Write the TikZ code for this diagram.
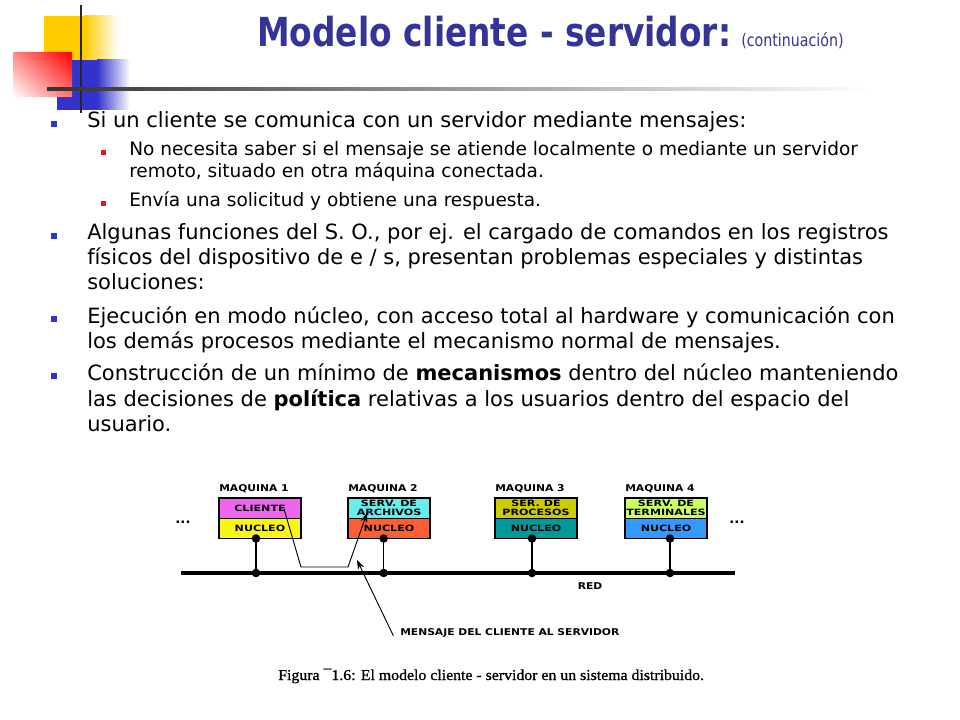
\documentclass[tikz,border=0pt]{standalone}
\usepackage{fontspec}
\setmainfont{DejaVu Sans}
\newfontfamily\titlefont[FakeStretch=0.82]{DejaVu Sans}
\newfontfamily\diagfont[FakeStretch=1.15]{DejaVu Sans}
\newfontfamily\cajafont[FakeStretch=1.28]{DejaVu Sans}
\newfontfamily\capfont[FakeStretch=1.05,FakeBold=1]{Liberation Serif}
\usetikzlibrary{positioning,arrows.meta,shadings}
\tikzset{>={Stealth[length=7pt,width=5pt]}}
\definecolor{titulo}{RGB}{51,51,153}
\definecolor{vazul}{RGB}{51,51,204}
\definecolor{vrojo}{RGB}{238,17,17}
\definecolor{lamarillo}{RGB}{255,204,0}
\definecolor{lazul}{RGB}{51,51,204}
\definecolor{cmagenta}{RGB}{238,102,238}
\definecolor{camarillo}{RGB}{250,245,20}
\definecolor{ccian}{RGB}{102,238,238}
\definecolor{cnaranja}{RGB}{250,96,50}
\definecolor{coliva}{RGB}{204,204,0}
\definecolor{cverdeazul}{RGB}{0,153,153}
\definecolor{cverde}{RGB}{204,255,102}
\definecolor{cceleste}{RGB}{51,153,255}
\newcommand*{\punto}[1]
  {\fill (#1) circle (3.2pt)}

\begin{document}
\begin{tikzpicture}[x=0.75pt,y=-0.75pt,
  cuerpo/.style={anchor=base west,inner sep=0pt,font=\fontsize{15.75}{18}\selectfont},
  sub/.style={anchor=base west,inner sep=0pt,font=\fontsize{13.9}{16}\selectfont},
  caja/.style={draw,line width=1pt,outer sep=0pt,inner sep=0pt,align=center,
    minimum width=61.5pt,minimum height=15.2pt,
    font=\cajafont\bfseries\fontsize{6.5}{6.8}\selectfont},
  maq/.style={inner sep=0pt,font=\diagfont\bfseries\fontsize{7}{8}\selectfont}]
\useasboundingbox (0,0) rectangle (960,720);
\fill[white] (0,0) rectangle (960,720);
% logo
\fill[lamarillo] (44,16) rectangle (84,60);
\shade[left color=lamarillo,right color=white] (84,16) rectangle (118,60);
\fill[lazul] (57,60) rectangle (97,110);
\shade[left color=lazul,right color=white] (97,60) rectangle (130,110);
\shade[upper right=red,lower left=white,upper left=red!45,lower right=red!55]
  (13,53) rectangle (72,97);
\draw[line width=2pt,black!85] (81,5) -- (81,113);
\shade[left color=black!80,right color=white] (47,87.5) rectangle (870,90.5);
% titulo
\node[anchor=base west,inner sep=0pt,text=titulo,
  font=\titlefont\bfseries\fontsize{30}{36}\selectfont] (tit) at (257,47)
  {Modelo cliente - servidor:};
\node[anchor=base west,inner sep=0pt,text=titulo,
  font=\titlefont\fontsize{13}{15}\selectfont] (cont) at (741,47) {(continuación)};
% texto
\node[cuerpo] (b1) at (87,128) {Si un cliente se comunica con un servidor mediante mensajes:};
\node[sub] (s1) at (129,156) {No necesita saber si el mensaje se atiende localmente o mediante un servidor};
\node[sub] (s1b) at (129,178) {remoto, situado en otra máquina conectada.};
\node[sub] (s2) at (129,207) {Envía una solicitud y obtiene una respuesta.};
\node[cuerpo] (b2) at (87,240) {Algunas funciones del S. O., por ej. el cargado de comandos en los registros};
\node[cuerpo] (b2b) at (87,265) {físicos del dispositivo de e / s, presentan problemas especiales y distintas};
\node[cuerpo] (b2c) at (87,290) {soluciones:};
\node[cuerpo] (b3) at (87,323) {Ejecución en modo núcleo, con acceso total al hardware y comunicación con};
\node[cuerpo] (b3b) at (87,348) {los demás procesos mediante el mecanismo normal de mensajes.};
\node[cuerpo] (b4) at (87,380) {Construcción de un mínimo de \textbf{mecanismos} dentro del núcleo manteniendo};
\node[cuerpo] (b4b) at (87,406) {las decisiones de \textbf{política} relativas a los usuarios dentro del espacio del};
\node[cuerpo] (b4c) at (87,431) {usuario.};
\foreach \y in {128,240,323,380}
  \fill[vazul] (51,\y-7) rectangle (57,\y-1);
\foreach \y in {156,207}
  \fill[vrojo] (101,\y-6) rectangle (106,\y-1);
% maquinas
\node[caja,fill=cmagenta,anchor=north west] (cli) at (219,498) {CLIENTE};
\node[caja,fill=camarillo,below=0pt of cli] (nuc1) {NUCLEO};
\node[caja,fill=ccian,anchor=north west] (arch) at (348,498) {SERV. DE\\ARCHIVOS};
\node[caja,fill=cnaranja,below=0pt of arch] (nuc2) {NUCLEO};
\node[caja,fill=coliva,anchor=north west] (proc) at (495,498) {SER. DE\\PROCESOS};
\node[caja,fill=cverdeazul,below=0pt of proc] (nuc3) {NUCLEO};
\node[caja,fill=cverde,anchor=north west] (term) at (625,498) {SERV. DE\\TERMINALES};
\node[caja,fill=cceleste,below=0pt of term] (nuc4) {NUCLEO};
\node[maq,anchor=south west] (mq1) at ([yshift=4pt]cli.north west) {MAQUINA 1};
\node[maq,anchor=south west] (mq2) at ([yshift=4pt]arch.north west) {MAQUINA 2};
\node[maq,anchor=south west] (mq3) at ([yshift=4pt]proc.north west) {MAQUINA 3};
\node[maq,anchor=south west] (mq4) at ([yshift=4pt]term.north west) {MAQUINA 4};
\node[maq,font=\bfseries\fontsize{10}{10}\selectfont] (pi) at (183,522) {...};
\node[maq,font=\bfseries\fontsize{10}{10}\selectfont] (pd) at (737,522) {...};
% red
\coordinate (redI) at (181,573);
\coordinate (redD) at (735,573);
\draw[line width=3pt] (redI) -- (redD);
\node[maq] (red) at (590,586) {RED};
\foreach \i/\s in {1/-3pt,2/-4pt,3/-3pt,4/3pt} {
  \coordinate (c\i) at ([xshift=\s]nuc\i.south);
  \coordinate (r\i) at (c\i |- redI);
  \draw[line width=1.2pt] (c\i) -- (r\i);
  \punto{c\i};
  \punto{r\i};
}
% mensaje
\coordinate (m0) at (284,509);
\coordinate (m1) at (301,567);
\coordinate (m2) at (348,567);
\coordinate (m3) at (367,513);
\draw[->,line width=0.7pt] (m0) -- (m1) -- (m2) -- (m3);
\node[maq,anchor=west] (msj) at (400,633) {MENSAJE DEL CLIENTE AL SERVIDOR};
\coordinate (m4) at (357,560);
\draw[->,line width=0.7pt] ([xshift=-5pt,yshift=-2pt]msj.west) -- (m4);
% pie
\node[anchor=base west,inner sep=0pt,font=\capfont\fontsize{11.3}{13}\selectfont] (fig) at (278,680)
  {Figura ¯1.6: El modelo cliente - servidor en un sistema distribuido.};
\end{tikzpicture}
\end{document}
